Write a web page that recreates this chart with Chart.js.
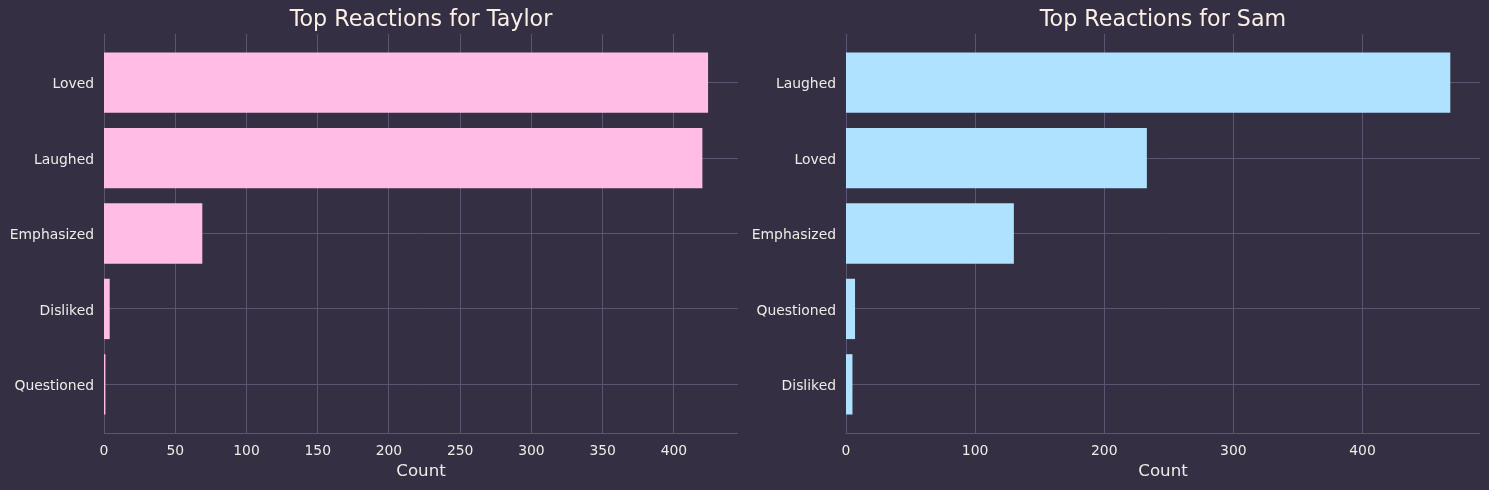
<!DOCTYPE html>
<html>
<head>
<meta charset="utf-8">
<title>Top Reactions</title>
<script src="https://cdn.jsdelivr.net/npm/chart.js@4"></script>
<style>
  html, body { margin: 0; padding: 0; background: #352f44; overflow: hidden; }
  .box { position: absolute; top: 0; height: 490px; }
  #boxTaylor { left: 0; width: 744px; }
  #boxSam { left: 744px; width: 745px; }
</style>
</head>
<body>
<div class="box" id="boxTaylor"><canvas id="taylorChart"></canvas></div>
<div class="box" id="boxSam"><canvas id="samChart"></canvas></div>
<script>
const taylorLabels = ['Loved', 'Laughed', 'Emphasized', 'Disliked', 'Questioned'];
const taylorCounts = [424, 420, 69, 4, 1];
const taylorTicks = [0, 50, 100, 150, 200, 250, 300, 350, 400];
const samLabels = ['Laughed', 'Loved', 'Emphasized', 'Questioned', 'Disliked'];
const samCounts = [468, 233, 130, 7, 5];
const samTicks = [0, 100, 200, 300, 400];

const gridColor = '#5c5470';
const textColor = '#f0ebe6';
const titleColor = '#faf0e6';
const fontFamily = '"DejaVu Sans", sans-serif';

function makeChart(id, name, labels, counts, xTicks, color, maxX, leftWidth, rightPad) {
    return new Chart(document.getElementById(id), {
        type: 'bar',
        data: {
            datasets: [{
                data: counts.map((c, i) => ({ x: c, y: i })),
                backgroundColor: color,
                borderWidth: 0,
                inflateAmount: 0,
                barPercentage: 1,
                categoryPercentage: 0.8
            }]
        },
        options: {
            indexAxis: 'y',
            responsive: true,
            maintainAspectRatio: false,
            animation: false,
            layout: { padding: { left: 0, right: rightPad, top: 0, bottom: 0 } },
            plugins: {
                legend: { display: false },
                tooltip: { enabled: false },
                title: {
                    display: true,
                    text: 'Top Reactions for ' + name,
                    fullSize: false,
                    color: titleColor,
                    font: { family: fontFamily, size: 22.2, weight: 'normal', lineHeight: 1 },
                    padding: { top: 9.5, bottom: 2.3 }
                }
            },
            scales: {
                x: {
                    type: 'linear',
                    min: 0,
                    max: maxX,
                    // no grid line at 0: the left border is there, and bars would be inset for it
                    grid: { color: gridColor, lineWidth: (c) => (c.tick && c.tick.value === 0 ? 0 : 1), drawTicks: false },
                    border: { color: gridColor, width: 1 },
                    afterBuildTicks: (s) => { s.ticks = xTicks.map((v) => ({ value: v })); },
                    ticks: {
                        maxRotation: 0,
                        autoSkip: false,
                        padding: 10,
                        color: textColor,
                        font: { family: fontFamily, size: 13.9 }
                    },
                    title: {
                        display: true,
                        text: 'Count',
                        color: textColor,
                        font: { family: fontFamily, size: 16.67 },
                        padding: { top: 3, bottom: 8 }
                    },
                    afterFit: (s) => { s.height = 57; }
                },
                y: {
                    type: 'linear',
                    reverse: true,
                    offset: false,
                    min: -0.645,
                    max: 4.645,
                    grid: { color: gridColor, lineWidth: 1, drawTicks: false, offset: false },
                    border: { color: gridColor, width: 1 },
                    afterBuildTicks: (s) => { s.ticks = labels.map((l, i) => ({ value: i })); },
                    ticks: {
                        padding: 10,
                        autoSkip: false,
                        labelOffset: 2,
                        color: textColor,
                        font: { family: fontFamily, size: 13.9 },
                        callback: (v) => labels[v]
                    },
                    afterFit: (s) => { s.width = leftWidth; }
                }
            }
        }
    });
}

makeChart('taylorChart', 'Taylor', taylorLabels, taylorCounts, taylorTicks, '#ffbde6', 445, 104, 6);
makeChart('samChart', 'Sam', samLabels, samCounts, samTicks, '#aee2ff', 491, 102, 9);
</script>
</body>
</html>
